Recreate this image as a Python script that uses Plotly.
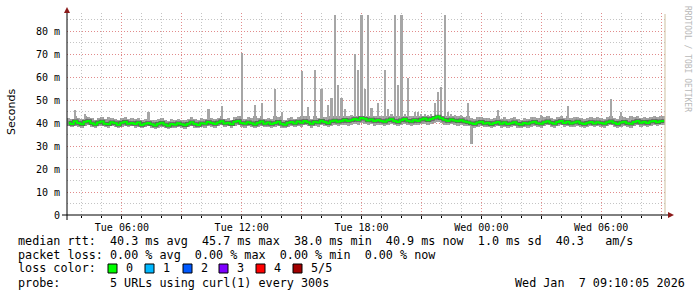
import pandas as pd
import plotly.graph_objects as go

# ---- data (10-minute bins, Tue Jan 6 03:15 .. Wed Jan 7 09:15) ----
median_ms = [
 40.2,39.6,40.8,40.1,39.5,40.6,40.9,40.0,39.4,40.3,40.7,39.8,39.5,40.4,40.0,39.3,40.2,40.6,39.7,40.1,
 39.6,40.3,39.2,39.8,40.1,39.5,39.0,39.7,40.2,39.4,38.9,39.6,39.3,40.0,39.5,39.1,39.8,40.4,39.6,39.2,
 40.0,39.7,40.5,40.1,39.6,40.3,40.8,39.9,40.2,39.5,40.6,40.9,40.1,39.7,40.4,40.0,39.4,40.2,40.7,39.8,
 40.3,39.6,40.1,40.6,39.8,39.3,40.2,40.5,39.9,40.7,40.2,41.0,40.4,39.8,40.6,40.3,41.1,40.5,40.0,40.8,
 41.2,40.6,41.0,41.5,40.9,41.3,41.8,41.4,42.3,41.9,41.2,41.6,40.9,41.4,41.0,40.6,41.3,41.7,41.0,40.5,
 41.3,41.8,41.1,40.7,41.4,41.0,41.6,42.0,41.3,41.8,42.4,42.9,42.1,41.5,41.0,41.6,41.2,40.8,41.3,40.7,
 40.4,40.0,39.6,40.3,40.6,39.9,40.2,39.5,40.1,40.5,39.8,40.3,39.6,40.0,40.4,39.7,39.4,40.1,39.8,40.3,
 40.6,40.0,39.7,40.4,40.8,40.2,39.8,40.5,40.9,40.1,40.6,39.9,40.3,40.7,40.0,39.6,40.2,40.5,39.9,40.4,
 40.1,39.7,40.4,40.8,40.2,39.6,40.3,40.6,40.0,39.8,40.5,40.9,40.2,40.6,40.1,40.7,41.0,40.4,40.8,40.9]

smoke_min_ms = [
 38.6,38.2,38.9,38.4,38.0,38.7,39.0,38.5,38.1,38.6,38.9,38.3,38.0,38.7,38.4,37.9,38.5,38.8,38.2,38.6,
 38.1,38.5,37.8,38.2,38.6,38.0,37.6,38.1,38.5,37.9,37.5,38.0,37.8,38.4,38.0,37.6,38.2,38.7,38.1,37.7,
 38.4,38.1,38.8,38.5,38.0,38.6,39.0,38.3,38.6,37.9,38.8,39.1,38.5,38.1,38.7,38.3,37.8,38.5,38.9,38.2,
 38.5,37.9,38.4,38.8,38.1,37.7,38.5,38.8,38.2,38.9,38.5,39.1,38.6,38.1,38.8,38.5,39.2,38.7,38.3,38.9,
 39.2,38.7,39.0,39.4,38.9,39.2,39.6,39.3,40.0,39.7,39.1,39.5,38.9,39.3,39.0,38.7,39.2,39.5,39.0,38.6,
 39.2,39.6,39.0,38.7,39.3,39.0,39.5,39.8,39.2,39.6,40.1,40.5,39.9,39.4,39.0,39.5,39.1,38.8,39.2,38.7,
 38.6,31.0,37.9,38.5,38.8,38.2,38.5,37.8,38.4,38.7,38.1,38.5,37.9,38.3,38.6,38.0,37.7,38.4,38.1,38.5,
 38.8,38.3,38.0,38.6,39.0,38.4,38.1,38.7,39.1,38.4,38.8,38.2,38.5,38.9,38.3,37.9,38.4,38.7,38.2,38.6,
 38.4,38.0,38.6,39.0,38.4,37.9,38.5,38.8,38.3,38.1,38.7,39.1,38.4,38.8,38.4,38.9,39.2,38.6,39.0,39.1]

smoke_max_ms = [
 42.3,41.8,45.6,42.1,41.7,44.0,42.6,42.2,41.6,42.4,42.8,41.9,42.6,42.3,42.0,41.5,42.2,42.7,41.8,42.1,
 41.7,42.2,41.3,41.9,45.0,41.6,41.2,41.8,42.3,41.5,41.1,41.7,41.4,42.0,41.6,41.2,41.9,42.5,41.7,41.3,
 42.1,41.8,46.0,42.2,41.7,42.4,47.4,42.0,42.3,41.6,42.7,43.0,70.4,41.8,42.5,42.1,47.8,42.3,48.7,41.9,
 42.4,41.7,55.0,42.7,45.0,41.4,42.3,42.6,42.0,42.8,62.6,43.1,47.0,42.0,63.0,42.4,55.0,42.6,48.0,51.0,
 87.0,56.5,51.0,46.0,43.2,43.6,70.0,63.0,87.0,55.0,87.0,46.5,43.1,49.0,43.2,63.0,46.0,44.0,87.0,56.5,
 87.0,44.0,59.6,43.0,45.0,45.0,43.8,44.2,43.5,44.0,49.0,53.5,55.7,87.0,45.0,43.8,43.4,43.0,43.5,42.9,
 48.7,42.2,41.8,42.5,42.8,42.1,42.4,41.7,42.3,45.6,42.0,42.5,41.8,42.2,42.6,41.9,41.6,42.3,42.0,42.5,
 42.8,42.2,43.5,42.6,43.0,42.4,42.0,42.7,43.1,42.3,47.4,42.1,42.5,42.9,42.2,41.8,42.4,42.7,42.1,42.6,
 42.3,41.9,42.6,50.4,42.4,41.8,45.0,42.8,42.2,43.0,42.7,43.1,42.4,42.8,42.3,42.9,43.2,42.6,43.0,43.1]

times = pd.date_range("2026-01-06 03:20", periods=len(median_ms), freq="10min")

y_tick_vals = [0, 10, 20, 30, 40, 50, 60, 70, 80]
y_tick_text = ["0", "10 m", "20 m", "30 m", "40 m", "50 m", "60 m", "70 m", "80 m"]

x_major = pd.date_range("2026-01-06 06:00", "2026-01-07 09:00", freq="3h")
x_tick_text = [("%s %s" % (d.strftime("%a"), d.strftime("%H:%M"))) if d.hour % 6 == 0 else "" for d in x_major]

legend_lines = [
    "median rtt:  40.3 ms avg  45.7 ms max  38.0 ms min  40.9 ms now  1.0 ms sd  40.3   am/s",
    "packet loss: 0.00 % avg  0.00 % max  0.00 % min  0.00 % now",
    "loss color:",
    "probe:       5 URLs using curl(1) every 300s",
]
loss_labels = ["0", "1", "2", "3", "4", "5/5"]
loss_colors = ["#00ff00", "#00b8ff", "#0059ff", "#7e00ff", "#ff0000", "#a10000"]
stamp = "Wed Jan  7 09:10:05 2026"

# ---- geometry helpers (pixel -> paper) ----
L, R, T, B = 67, 665, 13, 215
W, H = 697, 297
def px(x):
    return (x - L) / (R - L)
def py(y):
    return (B - y) / (B - T)

MONO = "DejaVu Sans Mono"
BAND_CAP = 43.0  # style: where the contiguous smoke band stops and thin spikes begin

fig = go.Figure()
# contiguous smoke band
fig.add_trace(go.Bar(
    x=times, base=smoke_min_ms,
    y=[min(h, BAND_CAP) - l for h, l in zip(smoke_max_ms, smoke_min_ms)],
    width=600000, marker=dict(color="#9c9c9c", line=dict(width=0)), hoverinfo="skip"))
# thin smoke spikes
fig.add_trace(go.Bar(
    x=times, base=smoke_min_ms, y=[h - l for h, l in zip(smoke_max_ms, smoke_min_ms)],
    width=390000, marker=dict(color="#a6a6a6", line=dict(width=0)), hoverinfo="skip"))
fig.add_trace(go.Scatter(
    x=times, y=median_ms, mode="lines",
    line=dict(color="rgba(40,40,40,0.55)", width=3.5, shape="hvh"), hoverinfo="skip"))
fig.add_trace(go.Scatter(
    x=times, y=median_ms, mode="lines",
    line=dict(color="#00ff00", width=2, shape="hvh"), hoverinfo="skip"))

fig.update_layout(
    width=W, height=H, margin=dict(l=L, r=W - R, t=T, b=H - B, pad=0),
    paper_bgcolor="white", plot_bgcolor="white", showlegend=False, bargap=0, barmode="overlay",
    font=dict(family=MONO, size=10, color="black"),
    xaxis=dict(
        type="date", range=["2026-01-06 03:15", "2026-01-07 09:12"],
        tickmode="array", tickvals=list(x_major), ticktext=x_tick_text,
        showgrid=True, gridcolor="rgba(235,120,120,0.75)", griddash="1px,2px", gridwidth=1,
        ticks="outside", ticklen=3, tickcolor="black", zeroline=False, showline=False,
        tickfont=dict(family=MONO, size=10),
        minor=dict(dtick=3600000, tick0="2026-01-06 00:00", showgrid=True,
                   gridcolor="#c4c4c4", griddash="1px,2px", ticks="outside", ticklen=2,
                   tickcolor="black"),
    ),
    yaxis=dict(
        range=[0, 88], tickmode="array", tickvals=y_tick_vals, ticktext=y_tick_text,
        showgrid=True, gridcolor="rgba(235,120,120,0.75)", griddash="1px,2px",
        ticks="", zeroline=False, showline=False, ticklabelstandoff=6,
        tickfont=dict(family=MONO, size=10),
        minor=dict(dtick=5, showgrid=True, gridcolor="#c4c4c4", griddash="1px,2px"),
    ),
)

shapes = []
# axes lines
shapes.append(dict(type="line", xref="paper", yref="paper", x0=px(62), x1=px(668), y0=0, y1=0,
                   line=dict(color="black", width=1)))
shapes.append(dict(type="line", xref="paper", yref="paper", x0=0, x1=0, y0=py(220), y1=py(10),
                   line=dict(color="black", width=1)))
# right frame line
shapes.append(dict(type="line", xref="paper", yref="paper", x0=px(665), x1=px(665), y0=py(214), y1=py(14),
                   line=dict(color="#cdbf9f", width=1)))
# arrows
shapes.append(dict(type="path", xref="paper", yref="paper",
                   path="M %f %f L %f %f L %f %f Z" % (px(64), py(13), px(70), py(13), px(67), py(7)),
                   fillcolor="#8b1a1a", line=dict(width=0)))
shapes.append(dict(type="path", xref="paper", yref="paper",
                   path="M %f %f L %f %f L %f %f Z" % (px(668), py(212), px(668), py(218), px(674), py(215)),
                   fillcolor="#8b1a1a", line=dict(width=0)))

annotations = []
# y title
annotations.append(dict(text="Seconds", xref="paper", yref="paper", x=px(11), y=py(112),
                        textangle=-90, showarrow=False, xanchor="center", yanchor="middle",
                        font=dict(family="DejaVu Sans", size=11, color="black")))
# watermark
annotations.append(dict(text="RRDTOOL / TOBI OETIKER", xref="paper", yref="paper", x=px(687), y=py(59),
                        textangle=90, showarrow=False, xanchor="center", yanchor="middle",
                        font=dict(family=MONO, size=8, color="#b8b8b8")))
NB = "\u00a0"
line_y = [241, 255, 268, 283]
for txt, yy in zip(legend_lines, line_y):
    annotations.append(dict(text=txt.replace(" ", NB), xref="paper", yref="paper", x=px(16), y=py(yy),
                            showarrow=False, xanchor="left", yanchor="middle",
                            font=dict(family=MONO, size=11.75, color="black")))
annotations.append(dict(text=stamp.replace(" ", NB), xref="paper", yref="paper", x=px(513), y=py(283),
                        showarrow=False, xanchor="left", yanchor="middle",
                        font=dict(family=MONO, size=11.75, color="black")))
sq_x = [108, 145, 183, 219, 256, 293]
for i, (lab, col) in enumerate(zip(loss_labels, loss_colors)):
    x0 = sq_x[i]
    shapes.append(dict(type="rect", xref="paper", yref="paper", x0=px(x0), x1=px(x0 + 9),
                       y0=py(273), y1=py(264), fillcolor=col, line=dict(color="black", width=1)))
    annotations.append(dict(text=lab, xref="paper", yref="paper", x=px(x0 + 16), y=py(268),
                            showarrow=False, xanchor="left", yanchor="middle",
                            font=dict(family=MONO, size=11.75, color="black")))

fig.update_layout(shapes=shapes, annotations=annotations)
fig.write_html("out.html")
